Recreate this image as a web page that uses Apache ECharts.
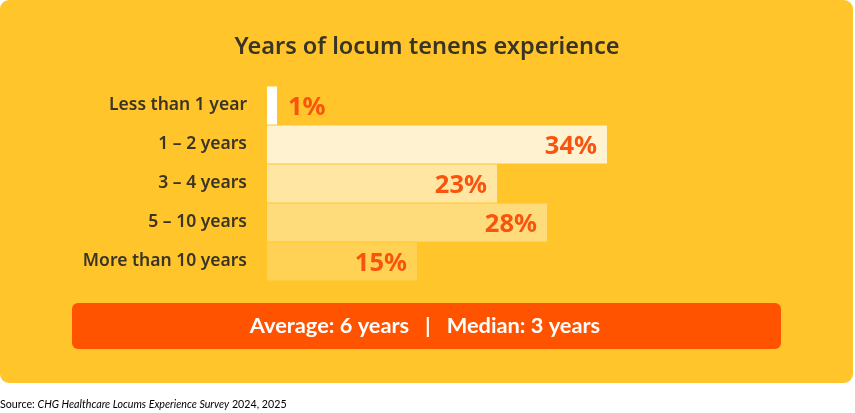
<!DOCTYPE html>
<html><head><meta charset="utf-8">
<script src="https://cdn.jsdelivr.net/npm/echarts@6/dist/echarts.min.js"></script>
<style>html,body{margin:0;padding:0;background:#fff}#c{width:855px;height:413px}</style>
</head><body><div id="c"></div>
<script>
var categories = ['Less than 1 year', '1 – 2 years', '3 – 4 years', '5 – 10 years', 'More than 10 years'];
var values = [1, 34, 23, 28, 15];
var titleText = 'Years of locum tenens experience';
var summaryText = 'Average: 6 years   |   Median: 3 years';
var barColors = ['#FFFFFF', '#FFF2D0', '#FFE7A3', '#FFDC7B', '#FFD255'];
var FONT = '"Noto Sans", Lato, sans-serif';
var FONT2 = 'Lato, "Noto Sans", sans-serif';

var chart = echarts.init(document.getElementById('c'), null, {renderer: 'canvas'});
chart.setOption({
  backgroundColor: '#ffffff',
  animation: false,
  graphic: [
    {type: 'rect', z: -10, shape: {x: 0, y: 0, width: 853, height: 383, r: 9}, style: {fill: '#FFC52B'}},
    {type: 'rect', z: 5, shape: {x: 72, y: 303, width: 709, height: 46, r: 6}, style: {fill: '#FF5300'}},
    {type: 'text', z: 6, x: 425, y: 326, style: {text: summaryText, fill: '#ffffff', font: 'bold 21.8px ' + FONT2, textAlign: 'center', textVerticalAlign: 'middle'}},
    {type: 'text', z: 6, x: 427, y: 47, style: {text: titleText, fill: '#3A3424', font: '600 23.5px ' + FONT, textAlign: 'center', textVerticalAlign: 'middle'}},
    {type: 'text', z: 6, x: 0, y: 405, style: {
      text: '{n|Source: }{i|CHG Healthcare Locums Experience Survey}{n| 2024, 2025}',
      textVerticalAlign: 'middle',
      rich: {
        n: {fontSize: 10.7, fontFamily: FONT2, color: '#555555'},
        i: {fontSize: 10.7, fontFamily: FONT2, fontStyle: 'italic', color: '#555555'}
      }
    }}
  ],
  grid: {left: 267, top: 86, width: 500, height: 195, containLabel: false},
  xAxis: {type: 'value', min: 0, max: 50, show: false},
  yAxis: {
    type: 'category', data: categories, inverse: true,
    axisLine: {show: false}, axisTick: {show: false},
    axisLabel: {margin: 20, color: '#3A3424', fontSize: 17.5, fontWeight: 600, fontFamily: FONT, padding: [4, 0, 0, 0]}
  },
  series: [{
    type: 'bar',
    data: values.map(function (v, i) {
      return {
        value: v,
        itemStyle: {color: barColors[i]},
        label: v < 5 ? {position: 'right', distance: 11} : {position: 'insideRight', distance: 10}
      };
    }),
    barCategoryGap: 1,
    barWidth: 38,
    label: {show: true, formatter: '{c}%', color: '#F8540F', fontSize: 25.5, fontWeight: 'bold', fontFamily: FONT, offset: [0, 2]}
  }]
});
</script></body></html>
